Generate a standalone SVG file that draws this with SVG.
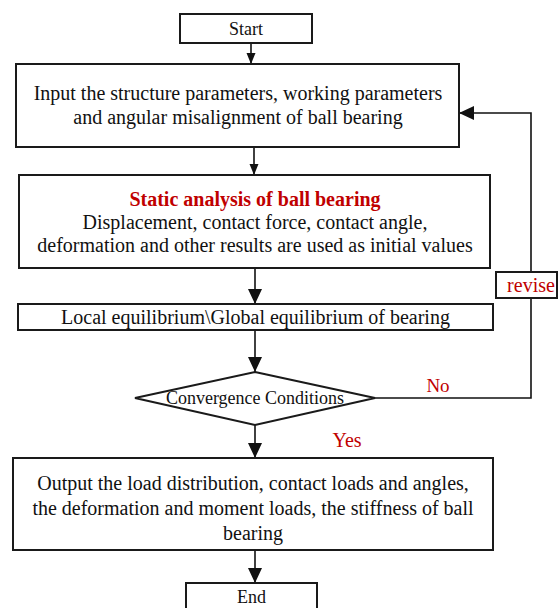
<svg xmlns="http://www.w3.org/2000/svg" width="558" height="608" viewBox="0 0 558 608">
  <style>
    .box { fill: #ffffff; stroke: #1a1a1a; stroke-width: 2; }
    .txt { font-family: "Liberation Serif", "Times New Roman", serif; fill: #111111; text-anchor: middle; }
    .red { fill: #c00000; }
    .title { font-weight: bold; }
    .conn { fill: none; stroke: #111111; stroke-width: 1.6; }
  </style>
  <defs>
    <marker id="arrowSmall" markerUnits="userSpaceOnUse" markerWidth="11" markerHeight="10" refX="11" refY="5" orient="auto">
      <path d="M0,0.5 L11,5 L0,9.5 Z" fill="#111111"/>
    </marker>
    <marker id="arrowLarge" markerUnits="userSpaceOnUse" markerWidth="15" markerHeight="15" refX="15" refY="7.5" orient="auto">
      <path d="M0,0.5 L15,7.5 L0,14.5 Z" fill="#111111"/>
    </marker>
  </defs>

  <rect width="558" height="608" fill="#ffffff"/>

  <!-- connectors -->
  <g id="connectors">
    <line class="conn" x1="251" y1="43" x2="251" y2="64" marker-end="url(#arrowSmall)"/>
    <line class="conn" x1="254" y1="147" x2="254" y2="175" marker-end="url(#arrowSmall)"/>
    <line class="conn" x1="255" y1="268" x2="255" y2="304" marker-end="url(#arrowLarge)"/>
    <line class="conn" x1="255" y1="330" x2="255" y2="372" marker-end="url(#arrowLarge)"/>
    <line class="conn" x1="255" y1="425" x2="255" y2="458" marker-end="url(#arrowLarge)"/>
    <line class="conn" x1="255" y1="550" x2="255" y2="583" marker-end="url(#arrowLarge)"/>
    <!-- "No" loop back to the input step -->
    <polyline class="conn" points="375,398 531,398 531,113 459,113" marker-end="url(#arrowLarge)"/>
    <text class="txt red" x="438" y="392" font-size="19">No</text>
    <text class="txt red" x="347" y="447" font-size="20">Yes</text>
  </g>

  <g id="start">
    <rect class="box" x="180" y="14" width="132" height="29"/>
    <text class="txt" x="246" y="34.5" font-size="18">Start</text>
  </g>

  <g id="input">
    <rect class="box" x="16" y="64" width="443" height="83"/>
    <text class="txt" x="238" y="100" font-size="20">Input the structure parameters, working parameters</text>
    <text class="txt" x="238" y="124" font-size="20">and angular misalignment of ball bearing</text>
  </g>

  <g id="static-analysis">
    <rect class="box" x="19" y="175" width="471" height="93"/>
    <text class="txt red title" x="255" y="206" font-size="20">Static analysis of ball bearing</text>
    <text class="txt" x="255" y="229" font-size="20">Displacement, contact force, contact angle,</text>
    <text class="txt" x="255" y="252" font-size="20">deformation and other results are used as initial values</text>
  </g>

  <g id="equilibrium">
    <rect class="box" x="18" y="304" width="475" height="26"/>
    <text class="txt" x="255.5" y="324" font-size="20">Local equilibrium\Global equilibrium of bearing</text>
  </g>

  <g id="revise">
    <rect class="box" x="496" y="272" width="61" height="26"/>
    <text class="txt red" x="531" y="291.5" font-size="20">revise</text>
  </g>

  <g id="convergence">
    <polygon class="box" points="255,372 375,398 255,425 135,398"/>
    <text class="txt" x="255" y="404" font-size="18">Convergence Conditions</text>
  </g>

  <g id="output">
    <rect class="box" x="13" y="458" width="480" height="92"/>
    <text class="txt" x="253" y="490" font-size="20">Output the load distribution, contact loads and angles,</text>
    <text class="txt" x="253" y="515" font-size="20">the deformation and moment loads, the stiffness of ball</text>
    <text class="txt" x="253" y="540" font-size="20">bearing</text>
  </g>

  <g id="end">
    <rect class="box" x="186" y="583" width="131" height="30"/>
    <text class="txt" x="251.5" y="603" font-size="18">End</text>
  </g>
</svg>
